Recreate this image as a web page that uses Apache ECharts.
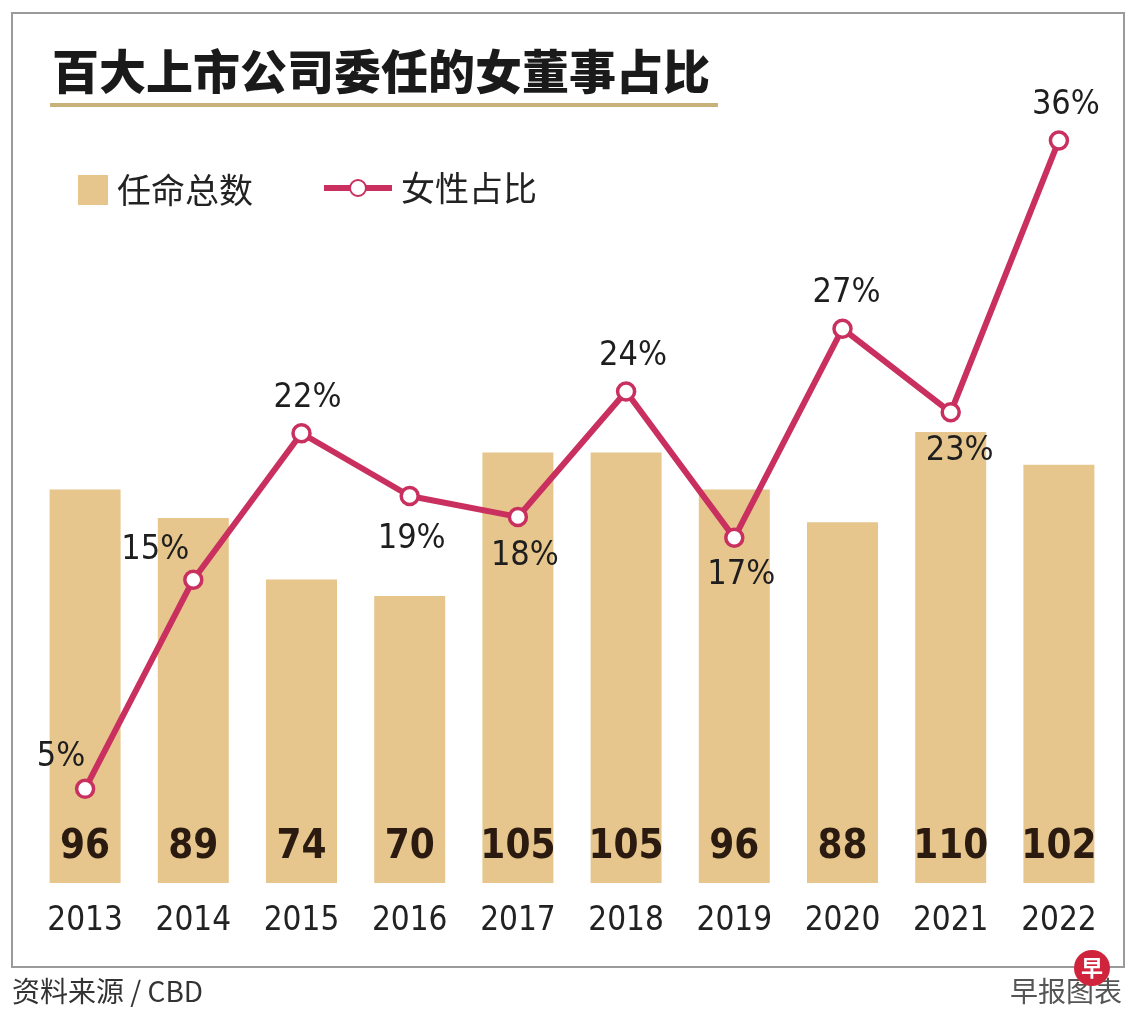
<!DOCTYPE html>
<html><head><meta charset="utf-8">
<script src="https://cdn.jsdelivr.net/npm/echarts@6/dist/echarts.min.js"></script>
<style>html,body{margin:0;padding:0;background:#fff}#c{width:1140px;height:1024px}</style>
</head><body><div id="c"></div>
<script>
var years = ['2013','2014','2015','2016','2017','2018','2019','2020','2021','2022'];
var totals = [96, 89, 74, 70, 105, 105, 96, 88, 110, 102];
var femaleShare = [5, 15, 22, 19, 18, 24, 17, 27, 23, 36];

var titleText = '百大上市公司委任的女董事占比';
var barName = '任命总数';
var lineName = '女性占比';
var sourceText = '资料来源 / CBD';
var creditText = '早报图表';

var BAR = '#e6c68c';
var LINE = '#c9305f';
var NARROW = '"Liberation Sans Narrow","DejaVu Sans Condensed","Liberation Sans",Arial,sans-serif';
var CJK = '"Noto Sans CJK SC","Noto Sans",sans-serif';

// label placement per point (above / below, with small nudges)
var labelPlace = [
  {position:'top', offset:[-24, 6]},
  {position:'top', offset:[-38, 8]},
  {position:'top', offset:[6, 2]},
  {position:'bottom', offset:[2, 6]},
  {position:'bottom', offset:[7, 2]},
  {position:'top', offset:[7, 2]},
  {position:'bottom', offset:[7, 0]},
  {position:'top', offset:[4, 2]},
  {position:'bottom', offset:[9, 2]},
  {position:'top', offset:[7, 2]}
];

var lineData = femaleShare.map(function(v, i){
  return {value: v, label: {position: labelPlace[i].position, offset: labelPlace[i].offset}};
});

var chart = echarts.init(document.getElementById('c'));
chart.setOption({
  backgroundColor: '#fff',
  animation: false,
  grid: {left: 31, right: 27, top: 63, bottom: 141},
  legend: [
    {data: [{name: barName, icon: 'rect'}], left: 73, top: 168, itemWidth: 30, itemHeight: 30,
     textStyle: {fontFamily: CJK, fontSize: 34, color: '#222', padding: [0,0,0,4]}},
    {data: [lineName], left: 316, top: 166, itemWidth: 68, itemHeight: 20,
     lineStyle: {width: 6},
     textStyle: {fontFamily: CJK, fontSize: 34, color: '#222', padding: [0,0,0,4]}}
  ],
  xAxis: {
    type: 'category', data: years,
    axisLine: {show: false}, axisTick: {show: false},
    axisLabel: {fontFamily: NARROW, fontSize: 33, color: '#222', margin: 22, interval: 0}
  },
  yAxis: [
    {type: 'value', min: 0, max: 200, show: false, splitLine: {show: false}},
    {type: 'value', min: 0.5, max: 39.7, show: false, splitLine: {show: false}}
  ],
  series: [
    {
      name: barName, type: 'bar', data: totals, barWidth: 71,
      itemStyle: {color: BAR},
      label: {show: true, position: 'insideBottom', distance: 15,
        fontFamily: NARROW, fontWeight: 'bold', fontSize: 40, color: '#2a1a10'}
    },
    {
      name: lineName, type: 'line', yAxisIndex: 1, data: lineData, z: 5,
      lineStyle: {color: LINE, width: 6},
      symbol: 'circle', symbolSize: 17,
      itemStyle: {color: '#fff', borderColor: LINE, borderWidth: 3.5},
      label: {show: true, formatter: '{c}%', distance: 10,
        fontFamily: NARROW, fontSize: 34, color: '#1e1e1e'}
    }
  ],
  graphic: [
    {type: 'rect', shape: {x: 12, y: 13, width: 1112, height: 954},
     style: {fill: 'none', stroke: '#9a9a9a', lineWidth: 2}, z: -1},
    {type: 'text', left: 52, top: 48,
     style: {text: titleText, font: '900 47px ' + CJK, fill: '#1a1a1a'}},
    {type: 'line', shape: {x1: 50, y1: 105, x2: 718, y2: 105},
     style: {stroke: '#c9b27a', lineWidth: 4}},
    {type: 'text', left: 12, top: 977,
     style: {text: sourceText, font: '28px ' + CJK, fill: '#333'}},
    {type: 'text', right: 18, top: 977,
     style: {text: creditText, font: '28px ' + CJK, fill: '#555'}},
    {type: 'circle', shape: {cx: 1092, cy: 968, r: 18}, style: {fill: '#d0243c'}, z: 10},
    {type: 'text', x: 1092, y: 968, z: 11,
     style: {text: '早', font: 'bold 22px ' + CJK, fill: '#fff', align: 'center', verticalAlign: 'middle'}}
  ]
});
</script></body></html>
